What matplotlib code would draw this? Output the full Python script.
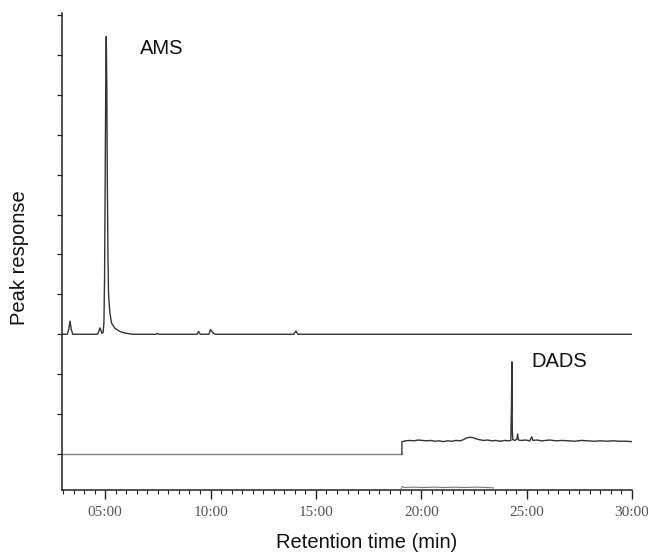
"""
Chromatogram overlay: AMS and DADS traces.
"""

import matplotlib
matplotlib.use("Agg")

import matplotlib.pyplot as plt
from matplotlib.ticker import FixedLocator, MultipleLocator, FuncFormatter


###############################################################################
# Data (retention time in min, response in arbitrary units)
###############################################################################

ams_time = [
    2.95, 3.20, 3.27, 3.33, 3.39, 3.46,
    4.62, 4.67, 4.75, 4.80, 4.84, 4.90,
    4.94, 4.97, 5.00, 5.03, 5.05, 5.075, 5.10, 5.13, 5.16, 5.22,
    5.30, 5.46, 5.70, 5.94, 6.30,
    7.40, 7.48, 7.56,
    9.35, 9.43, 9.51,
    9.92, 10.00, 10.10, 10.22,
    13.95, 14.05, 14.15,
    30.00,
]
ams_resp = [
    4.00, 4.00, 4.12, 4.33, 4.12, 4.00,
    4.00, 4.03, 4.16, 4.10, 4.03, 4.04,
    4.30, 5.40, 8.00, 10.60, 11.46, 10.30, 7.90, 6.00, 5.00, 4.54,
    4.28, 4.15, 4.07, 4.03, 4.00,
    4.00, 4.02, 4.00,
    4.00, 4.07, 4.00,
    4.00, 4.12, 4.04, 4.00,
    4.00, 4.08, 4.00,
    4.00,
]

dads_flat_time = [2.95, 19.08]
dads_flat_resp = [1.00, 1.00]

dads_time = [
    19.08, 19.08, 19.25, 19.45, 19.65, 19.85, 20.05, 20.25, 20.45, 20.65,
    20.85, 21.05, 21.25, 21.45, 21.65, 21.85, 22.00, 22.15, 22.30, 22.45,
    22.60, 22.75, 22.95, 23.15, 23.35, 23.55, 23.75, 23.95, 24.15, 24.25,
    24.28, 24.30, 24.32, 24.34, 24.45, 24.54, 24.57, 24.61, 24.75, 24.95,
    25.15, 25.24, 25.30, 25.50, 25.70, 25.90, 26.10, 26.40, 26.70, 27.00,
    27.30, 27.60, 27.90, 28.20, 28.50, 28.80, 29.10, 29.40, 29.70, 30.00,
]
dads_resp = [
    1.00, 1.31, 1.33, 1.34, 1.33, 1.35, 1.34, 1.33, 1.34, 1.32,
    1.33, 1.31, 1.33, 1.32, 1.34, 1.33, 1.36, 1.40, 1.42, 1.41,
    1.38, 1.36, 1.34, 1.35, 1.33, 1.34, 1.32, 1.34, 1.33, 1.34,
    2.20, 3.31, 1.60, 1.36, 1.34, 1.38, 1.50, 1.35, 1.34, 1.35,
    1.33, 1.43, 1.34, 1.35, 1.33, 1.34, 1.35, 1.33, 1.34, 1.33,
    1.32, 1.34, 1.33, 1.32, 1.33, 1.32, 1.33, 1.32, 1.32, 1.31,
]

faint_time = [19.05, 19.10, 19.20, 19.60, 20.10, 20.60, 21.10, 21.60, 22.10, 22.60, 23.10, 23.43]
faint_resp = [0.13, 0.19, 0.16, 0.17, 0.16, 0.17, 0.16, 0.17, 0.16, 0.17, 0.16, 0.15]

y_tick_values = [1, 2, 3, 4, 5, 6, 7, 8, 9, 10, 11, 12]

peak_labels = ["AMS", "DADS"]
peak_label_time = [6.65, 25.21]
peak_label_resp = [11.15, 3.31]


###############################################################################
# Helpers
###############################################################################

def mmss(value, pos):
    minutes = int(round(value))
    return f"{minutes:02d}:00"


###############################################################################
# Figure
###############################################################################

fig = plt.figure(figsize=(6.48, 5.56), dpi=100)

ax = fig.add_axes([62 / 648, 1 - 490 / 556, 570 / 648, 477 / 556])

ax.plot(ams_time, ams_resp, color="#333333", linewidth=1.0)
ax.plot(dads_flat_time, dads_flat_resp, color="#808080", linewidth=1.0)
ax.plot(dads_time, dads_resp, color="#333333", linewidth=1.0)
ax.plot(faint_time, faint_resp, color="#777777", linewidth=0.8)

for name, t, r in zip(peak_labels, peak_label_time, peak_label_resp):
    ax.text(t, r, name, ha="left", va="center", fontsize=14.5,
            family="Liberation Sans", color="#111111")

ax.set_xlim(2.95, 30.0)
ax.set_ylim(0.098, 12.05)

ax.spines["top"].set_visible(False)
ax.spines["right"].set_visible(False)
for side in ("left", "bottom"):
    ax.spines[side].set_color("#222222")
    ax.spines[side].set_linewidth(1.1)

ax.yaxis.set_major_locator(FixedLocator(y_tick_values))
ax.set_yticklabels([])
ax.tick_params(axis="y", direction="out", length=3.5, width=0.9, color="#222222")

ax.xaxis.set_major_locator(MultipleLocator(5))
ax.xaxis.set_minor_locator(MultipleLocator(0.5))
ax.xaxis.set_major_formatter(FuncFormatter(mmss))
ax.tick_params(axis="x", which="major", direction="out", length=6.5, width=1.0,
               color="#222222", pad=5, labelsize=11, labelcolor="#555555")
ax.tick_params(axis="x", which="minor", direction="out", length=3, width=0.8,
               color="#222222")
for label in ax.get_xticklabels():
    label.set_family("Liberation Serif")

fig.text(20 / 648, 1 - 258 / 556, "Peak response", rotation=90, ha="center",
         va="center", fontsize=14.5, family="Liberation Sans", color="#111111")
fig.text(367 / 648, 1 - 542 / 556, "Retention time (min)", ha="center",
         va="center", fontsize=14.5, family="Liberation Sans", color="#111111")

fig.savefig("out.png", dpi=100)
